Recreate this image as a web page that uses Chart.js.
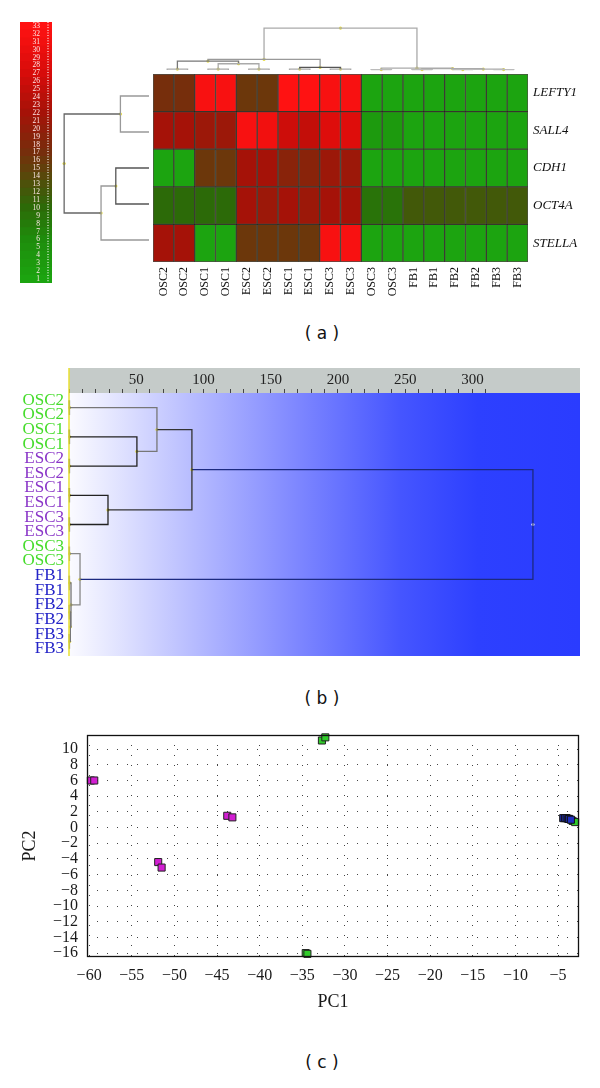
<!DOCTYPE html>
<html>
<head>
<meta charset="utf-8">
<script src="https://cdn.jsdelivr.net/npm/chart.js@4.4.1/dist/chart.umd.min.js"></script>
<style>
  body { margin: 0; background: #fff; width: 600px; height: 1088px; position: relative; overflow: hidden; }
  canvas { position: absolute; }
  .lbl { position: absolute; font: 17px "DejaVu Sans", sans-serif; line-height: 20px; color: #111; transform: translateX(-50%); white-space: pre; }
</style>
</head>
<body>
<canvas id="cbar" style="left:20px;top:22px" width="32" height="261"></canvas>
<canvas id="coldendro" style="left:153px;top:0px" width="375" height="74"></canvas>
<canvas id="rowdendro" style="left:50px;top:74px" width="103" height="188"></canvas>
<canvas id="heat" style="left:153px;top:74px" width="447" height="231"></canvas>
<div class="lbl" style="left:322px;top:323px">( a )</div>
<canvas id="tree" style="left:0px;top:360px" width="600" height="300"></canvas>
<div class="lbl" style="left:322px;top:688px">( b )</div>
<canvas id="pca" style="left:0px;top:725px" width="600" height="302"></canvas>
<div class="lbl" style="left:322px;top:1052px">( c )</div>
<script>
// ---- data ----
const samples = ["OSC2", "OSC2", "OSC1", "OSC1", "ESC2", "ESC2", "ESC1", "ESC1", "ESC3", "ESC3", "OSC3", "OSC3", "FB1", "FB1", "FB2", "FB2", "FB3", "FB3"];
const genes = ["LEFTY1", "SALL4", "CDH1", "OCT4A", "STELLA"];

// heatmap values (colour scale 1..33)
const lefty1 = [17, 17, 32, 32, 16, 16, 33, 33, 32, 32, 1, 1, 1, 1, 1, 1, 1, 1];
const sall4 = [22, 22, 21, 21, 32, 31, 26, 25, 28, 28, 3, 3, 1, 1, 1, 1, 1, 1];
const cdh1 = [1, 1, 16, 16, 22, 22, 19, 19, 21, 21, 1, 1, 1, 1, 1, 1, 1, 1];
const oct4a = [10, 10, 10, 10, 22, 21, 22, 21, 22, 22, 9, 9, 12, 12, 12, 12, 12, 12];
const stella = [22, 22, 1, 1, 16, 16, 16, 16, 32, 32, 1, 1, 1, 1, 1, 1, 1, 1];
const scaleLabels = ["33", "32", "31", "30", "29", "28", "27", "26", "25", "24", "23", "22", "21", "20", "19", "18", "17",
  "16", "15", "14", "13", "12", "11", "10", "9", "8", "7", "6", "5", "4", "3", "2", "1"];

// clustering of samples (same tree in (a) top and (b)); node ids >= 18 are merges
const sampleMerges = [[0, 1], [2, 3], [4, 5], [6, 7], [8, 9], [10, 11], [12, 13], [14, 15], [16, 17],
  [19, 20], [18, 27], [21, 22], [28, 29], [25, 26], [24, 31], [23, 32], [30, 33]];
const colHeights = [1, 1, 1, 1, 1, 0.5, 0.5, 0.5, 0.5, 7, 10, 3, 12, 1, 1.5, 2, 47];
const sampleDist = [0.5, 0.5, 0.5, 0.5, 0.5, 0.5, 0.5, 0.5, 0.5, 50.5, 65.4, 29, 91.4, 1, 1.5, 8.2, 345];
const distTicks = [50, 100, 150, 200, 250, 300];

// clustering of genes
const geneMerges = [[0, 1], [2, 3], [6, 4], [5, 7]];
const geneHeights = [31, 36, 52, 92];

// PCA scores
const escPC1 = [-59.8, -59.4, -51.9, -51.5, -43.8, -43.2];
const escPC2 = [6.0, 6.0, -4.4, -5.1, 1.5, 1.3];
const oscPC1 = [-32.7, -32.3, -34.6, -34.4, -3.3, -3.0];
const oscPC2 = [11.1, 11.5, -16.0, -16.1, 0.85, 0.7];
const fbPC1 = [-4.4, -4.2, -4.0, -3.8, -3.7, -3.5];
const fbPC2 = [1.2, 1.2, 1.2, 1.1, 1.1, 1.0];
const pcXTicks = [-60, -55, -50, -45, -40, -35, -30, -25, -20, -15, -10, -5];
const pcYTicks = [-16, -14, -12, -10, -8, -6, -4, -2, 0, 2, 4, 6, 8, 10];

// ---- helpers ----
Chart.defaults.animation = false;
Chart.defaults.responsive = false;
Chart.defaults.devicePixelRatio = 1;
Chart.defaults.plugins.legend.display = false;
Chart.defaults.plugins.tooltip.enabled = false;
Chart.defaults.font.family = '"Liberation Serif", serif';

const SERIF = '"Liberation Serif", serif';
const cmapStops = [[1, [28, 164, 16]], [6, [30, 140, 12]], [10, [44, 106, 8]], [14, [88, 72, 10]],
  [17, [118, 46, 12]], [22, [165, 18, 8]], [27, [215, 12, 10]], [33, [255, 18, 18]]];
function cmap(v) {
  for (let i = 1; i < cmapStops.length; i++) {
    const [v1, c1] = cmapStops[i];
    const [v0, c0] = cmapStops[i - 1];
    if (v <= v1) {
      const t = (v - v0) / (v1 - v0);
      const c = c0.map((x, k) => Math.round(x + (c1[k] - x) * t));
      return `rgb(${c[0]},${c[1]},${c[2]})`;
    }
  }
  return "rgb(255,18,18)";
}

// fixed axis size, no extra padding from label heights
const fixW = w => s => { s.width = w; s.paddingTop = 0; s.paddingBottom = 0; };

// builds U shaped links from merge list; returns [height, position] pairs
function dendro(merges, heights, nLeaves) {
  const pos = [], h = [];
  for (let i = 0; i < nLeaves; i++) { pos.push(i); h.push(0); }
  const links = [], nodes = [];
  merges.forEach(([a, b], k) => {
    const hk = heights[k];
    const p = (pos[a] + pos[b]) / 2;
    links.push([[h[a], pos[a]], [hk, pos[a]], [hk, pos[b]], [h[b], pos[b]]]);
    nodes.push([hk, p]);
    pos.push(p); h.push(hk);
  });
  return { links, nodes };
}

function linkDatasets(tree, colors, flip, width, dotColors) {
  const toPt = ([hh, p]) => flip ? { x: p, y: hh } : { x: hh, y: p };
  const sets = tree.links.map((l, k) => ({
    type: "line", data: l.map(toPt), borderColor: colors[k], borderWidth: width,
    pointRadius: 0, tension: 0, fill: false, clip: false
  }));
  sets.push({
    type: "scatter", data: tree.nodes.map(toPt), pointRadius: 1.6, pointBorderWidth: 0,
    pointBackgroundColor: dotColors, clip: false
  });
  return sets;
}

// ---- (a) colour bar ----
const barLabels = {
  id: "barLabels",
  afterDatasetsDraw(chart) {
    const s = chart.scales.yl;
    const ctx = chart.ctx;
    ctx.save();
    ctx.font = '7.5px "Liberation Serif", serif';
    ctx.fillStyle = "#ffe8e8";
    ctx.textAlign = "right";
    ctx.textBaseline = "middle";
    scaleLabels.forEach((t, i) => ctx.fillText(t, 20, s.getPixelForValue(i)));
    // dotted tick strip on the right
    ctx.fillStyle = "rgba(255,255,255,0.7)";
    for (let i = 0; i <= scaleLabels.length * 3; i++) {
      const y = chart.chartArea.top + i * (chart.chartArea.bottom - chart.chartArea.top) / (scaleLabels.length * 3);
      ctx.fillRect(27, y, 2, 0.8);
    }
    ctx.restore();
  }
};
new Chart(document.getElementById("cbar"), {
  type: "bar",
  data: {
    labels: [""],
    datasets: scaleLabels.slice().reverse().map(s => ({
      data: [1], backgroundColor: cmap(Number(s)), borderWidth: 0,
      barPercentage: 1, categoryPercentage: 1
    }))
  },
  plugins: [barLabels],
  options: {
    layout: { padding: 0 },
    scales: {
      x: { stacked: true, display: false },
      y: { stacked: true, min: 0, max: 33, display: false },
      yl: { type: "category", labels: scaleLabels, offset: true, display: false }
    }
  }
});

// ---- (a) column dendrogram ----
const colTree = dendro(sampleMerges, colHeights, samples.length);
const colColors = ["#aaa", "#aaa", "#aaa", "#aaa", "#aaa", "#bbb", "#bbb", "#bbb", "#bbb",
  "#aaa", "#777", "#555", "#999", "#aaa", "#aaa", "#aaa", "#aaa"];
new Chart(document.getElementById("coldendro"), {
  type: "scatter",
  data: { datasets: linkDatasets(colTree, colColors, true, 1.3, "#e6dc3a") },
  options: {
    layout: { padding: 0 },
    scales: {
      x: { type: "linear", min: -0.5, max: 17.5, display: false },
      y: { type: "linear", min: 0, max: 74, display: false }
    }
  }
});

// ---- (a) row dendrogram ----
const rowTree = dendro(geneMerges, geneHeights, genes.length);
new Chart(document.getElementById("rowdendro"), {
  type: "scatter",
  data: { datasets: linkDatasets(rowTree, ["#999", "#555", "#999", "#666"], false, 1.3, "#e6dc3a") },
  options: {
    layout: { padding: 0 },
    scales: {
      x: { type: "linear", min: 0, max: 103, reverse: true, display: false },
      y: { type: "linear", min: -0.5, max: 4.5, reverse: true, display: false }
    }
  }
});

// ---- (a) heatmap ----
const rows = [lefty1, sall4, cdh1, oct4a, stella];
new Chart(document.getElementById("heat"), {
  type: "bar",
  data: {
    labels: samples,
    datasets: rows.slice().reverse().map(r => ({
      data: r.map(() => 1),
      backgroundColor: r.map(cmap),
      borderColor: "rgba(20,20,10,0.75)",
      borderWidth: 1,
      borderSkipped: false,
      barPercentage: 1,
      categoryPercentage: 1
    }))
  },
  options: {
    layout: { padding: 0 },
    scales: {
      x: {
        stacked: true, grid: { display: false, drawTicks: false }, border: { display: false },
        afterFit: s => { s.height = 43; s.paddingLeft = 0; s.paddingRight = 0; },
        ticks: { minRotation: 90, maxRotation: 90, autoSkip: false, padding: 5, color: "#111", font: { size: 12, family: SERIF } }
      },
      y: { stacked: true, min: 0, max: 5, display: false },
      yr: {
        type: "category", labels: genes, position: "right", offset: true,
        grid: { display: false, drawTicks: false }, border: { display: false },
        afterFit: fixW(72),
        ticks: { padding: 5, color: "#111", font: { size: 13, style: "italic", family: SERIF } }
      }
    }
  }
});

// ---- (b) dendrogram ----
const labelColor = s => s.startsWith("OSC") ? "#46dc2c" : s.startsWith("ESC") ? "#8a36c8" : "#2424c8";
const treeB = dendro(sampleMerges, sampleDist, samples.length);
const bColors = ["#666", "#555", "#555", "#555", "#555", "#777", "#777", "#777", "#777",
  "#222", "#777", "#222", "#333", "#777", "#777", "#888", "#1c2a80"];
const bDots = treeB.nodes.map((n, k) => k === treeB.nodes.length - 1 ? "#ffffff" : "#e6dc3a");
const bandPlugin = {
  id: "band",
  beforeDatasetsDraw(chart) {
    const { ctx, chartArea: a } = chart;
    const g = ctx.createLinearGradient(a.left, 0, a.right, 0);
    g.addColorStop(0, "#fbfbff");
    g.addColorStop(0.1, "#e0e2ff");
    g.addColorStop(0.25, "#b5baff");
    g.addColorStop(0.45, "#7d86ff");
    g.addColorStop(0.65, "#4555ff");
    g.addColorStop(0.8, "#2d40ff");
    g.addColorStop(1, "#2a3cff");
    ctx.save();
    ctx.fillStyle = g;
    ctx.fillRect(a.left, a.top, a.right - a.left, a.bottom - a.top);
    ctx.restore();
  },
  afterDraw(chart) {
    const { ctx, chartArea: a } = chart;
    ctx.save();
    ctx.strokeStyle = "#e8e030";
    ctx.lineWidth = 1.5;
    ctx.beginPath();
    ctx.moveTo(a.left, a.top - 25);
    ctx.lineTo(a.left, a.bottom);
    ctx.stroke();
    ctx.restore();
  }
};
new Chart(document.getElementById("tree"), {
  type: "scatter",
  data: { datasets: linkDatasets(treeB, bColors, false, 1.3, bDots) },
  plugins: [bandPlugin],
  options: {
    layout: { padding: { top: 8, right: 20, left: 0, bottom: 0 } },
    scales: {
      x: {
        type: "linear", position: "top", min: 0, max: 380, backgroundColor: "#c5cbc9",
        afterFit: s => { s.height = 25; s.paddingLeft = 0; s.paddingRight = 0; },
        afterBuildTicks: s => {
          const t = [];
          for (let v = 0; v <= 310; v += 10) t.push({ value: v });
          s.ticks = t;
        },
        grid: { drawOnChartArea: false, tickLength: 4, tickColor: "#444", tickWidth: 1 },
        border: { display: false },
        ticks: {
          autoSkip: false, maxRotation: 0, padding: 0, color: "#222", font: { size: 15, family: SERIF },
          callback: v => distTicks.includes(v) ? String(v) : ""
        }
      },
      y: { type: "linear", min: -0.5, max: 17.5, reverse: true, display: false },
      yl: {
        type: "category", labels: samples, position: "left", offset: true,
        grid: { display: false, drawTicks: false }, border: { display: false },
        afterFit: fixW(69),
        ticks: {
          autoSkip: false, padding: 5, font: { size: 17, family: SERIF },
          color: c => labelColor(samples[c.index])
        }
      }
    }
  }
});

// ---- (c) PCA ----
const minus = v => String(v).replace("-", "\u2212");
const toXY = (xs, ys) => xs.map((x, i) => ({ x, y: ys[i] }));
const boxPlugin = {
  id: "box",
  afterDraw(chart) {
    const { ctx, chartArea: a } = chart;
    ctx.save();
    ctx.strokeStyle = "#111";
    ctx.lineWidth = 1.3;
    ctx.strokeRect(a.left + 0.5, a.top + 0.5, a.right - a.left - 1, a.bottom - a.top - 1);
    ctx.restore();
  }
};
const tickFont = { size: 16, family: SERIF };
new Chart(document.getElementById("pca"), {
  type: "scatter",
  data: {
    datasets: [
      { data: toXY(escPC1, escPC2), backgroundColor: "#d21ed2", borderColor: "#222", borderWidth: 1, pointStyle: "rect", pointRadius: 5, clip: false },
      { data: toXY(fbPC1, fbPC2), backgroundColor: "#2030c0", borderColor: "#111", borderWidth: 1, pointStyle: "rect", pointRadius: 5, clip: false },
      { data: toXY(oscPC1, oscPC2), backgroundColor: "#30cc2a", borderColor: "#222", borderWidth: 1, pointStyle: "rect", pointRadius: 5, clip: false }
    ]
  },
  plugins: [boxPlugin],
  options: {
    layout: { padding: { top: 10, right: 21, left: 0, bottom: 0 } },
    scales: {
      x: {
        type: "linear", min: -60.25, max: -2.55,
        afterBuildTicks: s => { s.ticks = pcXTicks.map(v => ({ value: v })); },
        afterFit: s => { s.height = 70; s.paddingLeft = 0; s.paddingRight = 0; },
        grid: { color: "#444", drawTicks: false, lineWidth: 1 },
        border: { display: false, dash: [1, 9] },
        ticks: { autoSkip: false, maxRotation: 0, padding: 9, color: "#1a1a1a", font: tickFont, callback: v => minus(v) },
        title: { display: true, text: "PC1", color: "#1a1a1a", font: { size: 18, family: SERIF }, padding: { top: 0, bottom: 14 } }
      },
      y: {
        type: "linear", min: -16.5, max: 11.8,
        afterBuildTicks: s => { s.ticks = pcYTicks.map(v => ({ value: v })); },
        afterFit: fixW(87),
        grid: { color: "#444", drawTicks: false, lineWidth: 1 },
        border: { display: false, dash: [1, 9] },
        ticks: { autoSkip: false, padding: 9, color: "#1a1a1a", font: tickFont, callback: v => minus(v) },
        title: { display: true, text: "PC2", color: "#1a1a1a", font: { size: 18, family: SERIF }, padding: { top: 19, bottom: 0 } }
      }
    }
  }
});
</script>
</body>
</html>
